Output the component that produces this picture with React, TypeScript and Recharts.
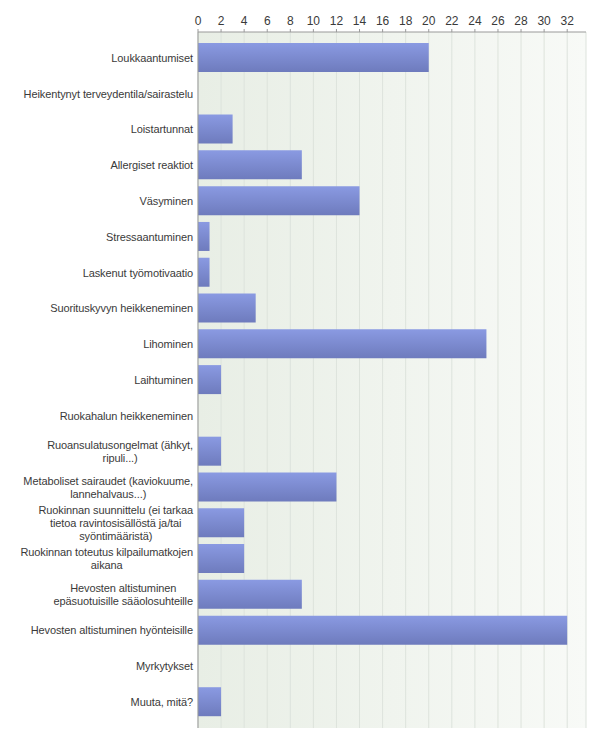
import React from "react";
import { BarChart, Bar, XAxis, YAxis, CartesianGrid } from "recharts";

const categories: string[] = [
  "Loukkaantumiset",
  "Heikentynyt terveydentila/sairastelu",
  "Loistartunnat",
  "Allergiset reaktiot",
  "Väsyminen",
  "Stressaantuminen",
  "Laskenut työmotivaatio",
  "Suorituskyvyn heikkeneminen",
  "Lihominen",
  "Laihtuminen",
  "Ruokahalun heikkeneminen",
  "Ruoansulatusongelmat (ähkyt,\nripuli...)",
  "Metaboliset sairaudet (kaviokuume,\nlannehalvaus...)",
  "Ruokinnan suunnittelu (ei tarkaa\ntietoa ravintosisällöstä ja/tai\nsyöntimääristä)",
  "Ruokinnan toteutus kilpailumatkojen\naikana",
  "Hevosten altistuminen\nepäsuotuisille sääolosuhteille",
  "Hevosten altistuminen hyönteisille",
  "Myrkytykset",
  "Muuta, mitä?",
];

const values: number[] = [20, 0, 3, 9, 14, 1, 1, 5, 25, 2, 0, 2, 12, 4, 4, 9, 32, 0, 2];

const xTicks: number[] = [0, 2, 4, 6, 8, 10, 12, 14, 16, 18, 20, 22, 24, 26, 28, 30, 32];

const data = categories.map((name, i) => ({ name, value: values[i] }));

const LABEL_FONT = "11px 'Liberation Sans', Arial, sans-serif";
const LETTER_SPACING = -0.1;

let ctx: CanvasRenderingContext2D | null = null;
function measure(text: string): number {
  if (typeof document === "undefined") return text.length * 5.5;
  if (!ctx) {
    const c = document.createElement("canvas");
    ctx = c.getContext("2d");
  }
  if (!ctx) return text.length * 5.5;
  ctx.font = LABEL_FONT;
  return ctx.measureText(text).width + LETTER_SPACING * text.length;
}

const CategoryTick = (props: any) => {
  const { x, y, payload } = props;
  const lines: string[] = String(payload.value).split("\n");
  const lineHeight = 13;
  const common = {
    fontFamily: "'Liberation Sans', Arial, sans-serif",
    fontSize: 11,
    fill: "#3a3a3a",
    letterSpacing: LETTER_SPACING,
  } as any;
  if (lines.length === 1) {
    return (
      <text x={x} y={y} dy="0.36em" textAnchor="end" {...common}>
        {lines[0]}
      </text>
    );
  }
  const maxW = Math.max(...lines.map(measure));
  const cx = x - maxW / 2;
  const startY = y - ((lines.length - 1) * lineHeight) / 2;
  return (
    <text textAnchor="middle" {...common}>
      {lines.map((l, i) => (
        <tspan key={i} x={cx} y={startY + i * lineHeight} dy="0.36em">
          {l}
        </tspan>
      ))}
    </text>
  );
};

export default function App() {
  return (
    <div style={{ position: "absolute", left: 0, top: 0, width: 600, height: 743, background: "#fff" }}>
      <BarChart
        width={600}
        height={743}
        data={data}
        layout="vertical"
        margin={{ top: 0, right: 14, bottom: 15, left: 0 }}
        barSize={29}
      >
        <defs>
          <linearGradient id="bgGrad" x1="0" y1="0" x2="1" y2="0">
            <stop offset="0%" stopColor="#e8eee5" />
            <stop offset="100%" stopColor="#f8faf7" />
          </linearGradient>
          <linearGradient id="barGrad" x1="0" y1="0" x2="0" y2="1">
            <stop offset="0%" stopColor="#8a9ae2" />
            <stop offset="100%" stopColor="#6e7bbd" />
          </linearGradient>
        </defs>
        <CartesianGrid
          horizontal={false}
          vertical={true}
          stroke="#dde3dc"
          fill="url(#bgGrad)"
          fillOpacity={1}
        />
        <XAxis
          type="number"
          orientation="top"
          domain={[0, 33.63]}
          allowDataOverflow
          ticks={xTicks}
          interval={0}
          height={32}
          tickSize={3}
          tickMargin={4}
          axisLine={{ stroke: "#999" }}
          tickLine={{ stroke: "#999" }}
          tick={{ fill: "#3a3a3a", fontSize: 12, fontFamily: "'Liberation Sans', Arial, sans-serif" }}
        />
        <XAxis
          xAxisId="bottom"
          type="number"
          orientation="bottom"
          domain={[0, 33.63]}
          allowDataOverflow
          height={0}
          tick={false}
          tickLine={false}
          axisLine={{ stroke: "#aaa" }}
        />
        <YAxis
          type="category"
          dataKey="name"
          width={198}
          interval={0}
          padding={{ top: 8, bottom: 8 }}
          axisLine={{ stroke: "#999" }}
          tickLine={false}
          tickSize={3}
          tickMargin={2}
          tick={<CategoryTick />}
        />
        <YAxis
          yAxisId="right"
          type="category"
          dataKey="name"
          orientation="right"
          width={0}
          tick={false}
          tickLine={false}
          axisLine={{ stroke: "#aaa" }}
        />
        <Bar dataKey="value" fill="url(#barGrad)" isAnimationActive={false} />
      </BarChart>
    </div>
  );
}
